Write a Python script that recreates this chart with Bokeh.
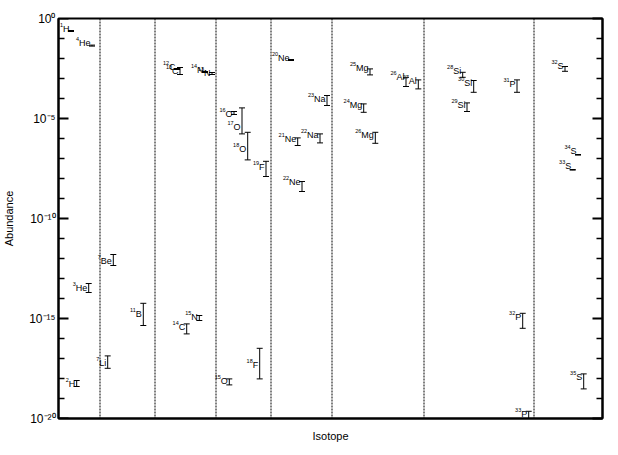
import numpy as np
from bokeh.plotting import figure
from bokeh.models import (Range1d, FixedTicker, LogAxis, CustomJSTickFormatter,
                          Whisker, TeeHead, ColumnDataSource, Span)
from bokeh.core.properties import value
from bokeh.embed import file_html
from bokeh.resources import INLINE

# ---------------- data ----------------
mass = ["1", "2", "3", "4", "7", "7", "11", "12", "13", "14", "14", "13", "15",
        "15", "16", "17", "18", "18", "19", "20", "21", "22", "22", "23",
        "24", "25", "26", "26", "27", "28", "29", "30", "31", "32", "33",
        "32", "33", "34", "35"]
element = ["H", "H", "He", "He", "Li", "Be", "B", "C", "C", "C", "N", "N", "N",
           "O", "O", "O", "O", "F", "F", "Ne", "Ne", "Ne", "Na", "Na",
           "Mg", "Mg", "Mg", "Al", "Al", "Si", "Si", "Si", "P", "P", "P",
           "S", "S", "S", "S"]
# position of each isotope along the (unlabelled) isotope axis, 0..544
position = [12.5, 18.2, 30.2, 33.5, 49.2, 54.8, 84.8, 118.5, 121.5, 128.2,
            146.5, 153.5, 140.8, 170.8, 175.5, 183.5, 189.2, 201.2, 207.5,
            232.5, 239.2, 243.5, 261.5, 268.5, 305.2, 311.5, 316.8, 347.5,
            359.8, 404.2, 408.5, 415.2, 458.5, 464.2, 470.2, 506.5, 514.2,
            519.5, 525.2]
# log10 abundance: central value, upper and lower limits
log_abund = [-0.50, -18.25, -13.45, -1.24, -17.24, -12.10, -14.75, -2.40,
             -2.60, -15.40, -2.55, -2.70, -14.94, -18.14, -4.75, -5.40, -6.50,
             -17.30, -7.40, -1.99, -6.02, -8.19, -5.82, -4.02, -4.32, -2.49,
             -5.82, -2.94, -3.10, -2.64, -4.30, -3.24, -3.27, -14.94, -19.77,
             -2.35, -7.39, -6.60, -17.90]
log_upper = [-0.60, -18.10, -13.25, -1.33, -16.87, -11.80, -14.24, -2.50,
             -2.45, -15.27, -2.65, -2.70, -14.85, -18.02, -4.65, -4.47, -5.69,
             -16.49, -7.14, -2.05, -5.97, -8.15, -5.77, -3.85, -4.27, -2.52,
             -5.69, -2.94, -3.07, -2.69, -4.22, -3.10, -3.07, -14.74, -19.64,
             -2.40, -7.55, -6.80, -17.77]
log_lower = [-0.65, -18.40, -13.70, -1.38, -17.49, -12.35, -15.35, -2.55,
             -2.80, -15.77, -2.70, -2.80, -15.10, -18.32, -4.80, -5.77, -7.07,
             -18.02, -7.90, -2.10, -6.35, -8.65, -6.22, -4.35, -4.69, -2.82,
             -6.24, -3.40, -3.52, -2.94, -4.65, -3.69, -3.69, -15.49, -20.00,
             -2.64, -7.58, -6.83, -18.52]
dividers = [41.5, 96.5, 157.5, 212.5, 273.5, 365.5, 475.5]
y_major_exp = [0, -5, -10, -15, -20]

# ---------------- styling helpers ----------------
FONT = "Liberation Sans"
SYM_SIZE = 9.0
NUM_SIZE = 5.5
char_w = {"H": .722, "e": .556, "L": .556, "i": .222, "B": .667, "C": .722,
          "N": .722, "O": .778, "F": .611, "a": .556, "M": .833, "g": .556,
          "A": .667, "l": .222, "S": .667, "P": .667}
sym_w = [sum(char_w[c] for c in s) * SYM_SIZE for s in element]

src = ColumnDataSource(dict(
    position=position,
    symbol=element,
    mass=mass,
    abund=[10.0 ** v for v in log_abund],
    upper=[10.0 ** v for v in log_upper],
    lower=[10.0 ** v for v in log_lower],
    mass_dx=[-1.5 - w for w in sym_w],
))

p = figure(width=612, height=448, frame_width=544, frame_height=400,
           x_range=Range1d(0, 544), y_range=Range1d(1e-20, 1),
           y_axis_type="log", output_backend="svg", toolbar_location=None,
           min_border_left=58, min_border_right=10, min_border_top=18,
           min_border_bottom=30)
p.grid.visible = False
p.outline_line_color = "black"
p.outline_line_width = 2

major = [10.0 ** e for e in y_major_exp]
minor = [10.0 ** e for e in range(-20, 1) if e not in y_major_exp]
fmt_code = r"""
const e = Math.round(Math.log10(tick));
const sup = {"-": "\u207B", "0": "\u2070", "1": "\u00B9", "2": "\u00B2",
             "3": "\u00B3", "4": "\u2074", "5": "\u2075", "6": "\u2076",
             "7": "\u2077", "8": "\u2078", "9": "\u2079"};
return "10" + String(e).split("").map(c => sup[c]).join("");
"""

yax = p.yaxis[0]
yax.ticker = FixedTicker(ticks=major, minor_ticks=minor)
yax.major_tick_in = 0
yax.major_tick_out = 0
yax.minor_tick_in = 0
yax.minor_tick_out = 0
yax.axis_line_color = "black"
yax.axis_line_width = 2
yax.formatter = CustomJSTickFormatter(code=fmt_code)
yax.major_label_text_font = FONT
yax.major_label_text_font_size = "12px"
yax.major_label_text_color = "black"
yax.major_label_standoff = 3
yax.axis_label = "Abundance"
yax.axis_label_text_font = FONT
yax.axis_label_text_font_size = "11px"
yax.axis_label_text_font_style = "normal"
yax.axis_label_text_color = "black"
yax.axis_label_standoff = 11

rax = LogAxis(ticker=FixedTicker(ticks=major, minor_ticks=minor),
              formatter=CustomJSTickFormatter(code="return '';"),
              major_tick_in=10, major_tick_out=0, minor_tick_in=6,
              minor_tick_out=0, major_tick_line_color="black",
              minor_tick_line_color="black", major_tick_line_width=2,
              minor_tick_line_width=1.5, axis_line_color="black",
              axis_line_width=2)
p.add_layout(rax, "right")

# inward tick marks on the left frame edge, placed through the y scale
p.ray(x=[0] * len(major), y=major, length=10, length_units="screen", angle=0,
      line_color="black", line_width=2)
p.ray(x=[0] * len(minor), y=minor, length=6, length_units="screen", angle=0,
      line_color="black", line_width=1.5)

xax = p.xaxis[0]
xax.ticker = FixedTicker(ticks=[])
xax.axis_line_width = 2
xax.axis_line_color = "black"
xax.axis_label = "Isotope"
xax.axis_label_text_font = FONT
xax.axis_label_text_font_size = "11px"
xax.axis_label_text_font_style = "normal"
xax.axis_label_text_color = "black"
xax.axis_label_standoff = 11

for d in dividers:
    p.add_layout(Span(location=d, dimension="height", line_color="black",
                      line_width=1, line_dash="2 1"))

p.add_layout(Whisker(source=src, base="position", upper="upper", lower="lower",
                     dimension="height", line_color="black", line_width=1,
                     upper_head=TeeHead(size=6, line_color="black", line_width=1),
                     lower_head=TeeHead(size=6, line_color="black", line_width=1)))

p.text(x="position", y="abund", text="symbol", source=src,
       text_align="right", text_baseline="middle", x_offset=-1.5,
       text_font=value(FONT), text_font_size=f"{SYM_SIZE}px", text_color="black")
p.text(x="position", y="abund", text="mass", source=src,
       text_align="right", text_baseline="middle", x_offset="mass_dx", y_offset=-4,
       text_font=value(FONT), text_font_size=f"{NUM_SIZE}px", text_color="black")

open("out.html", "w", encoding="utf-8").write(file_html(p, INLINE))
